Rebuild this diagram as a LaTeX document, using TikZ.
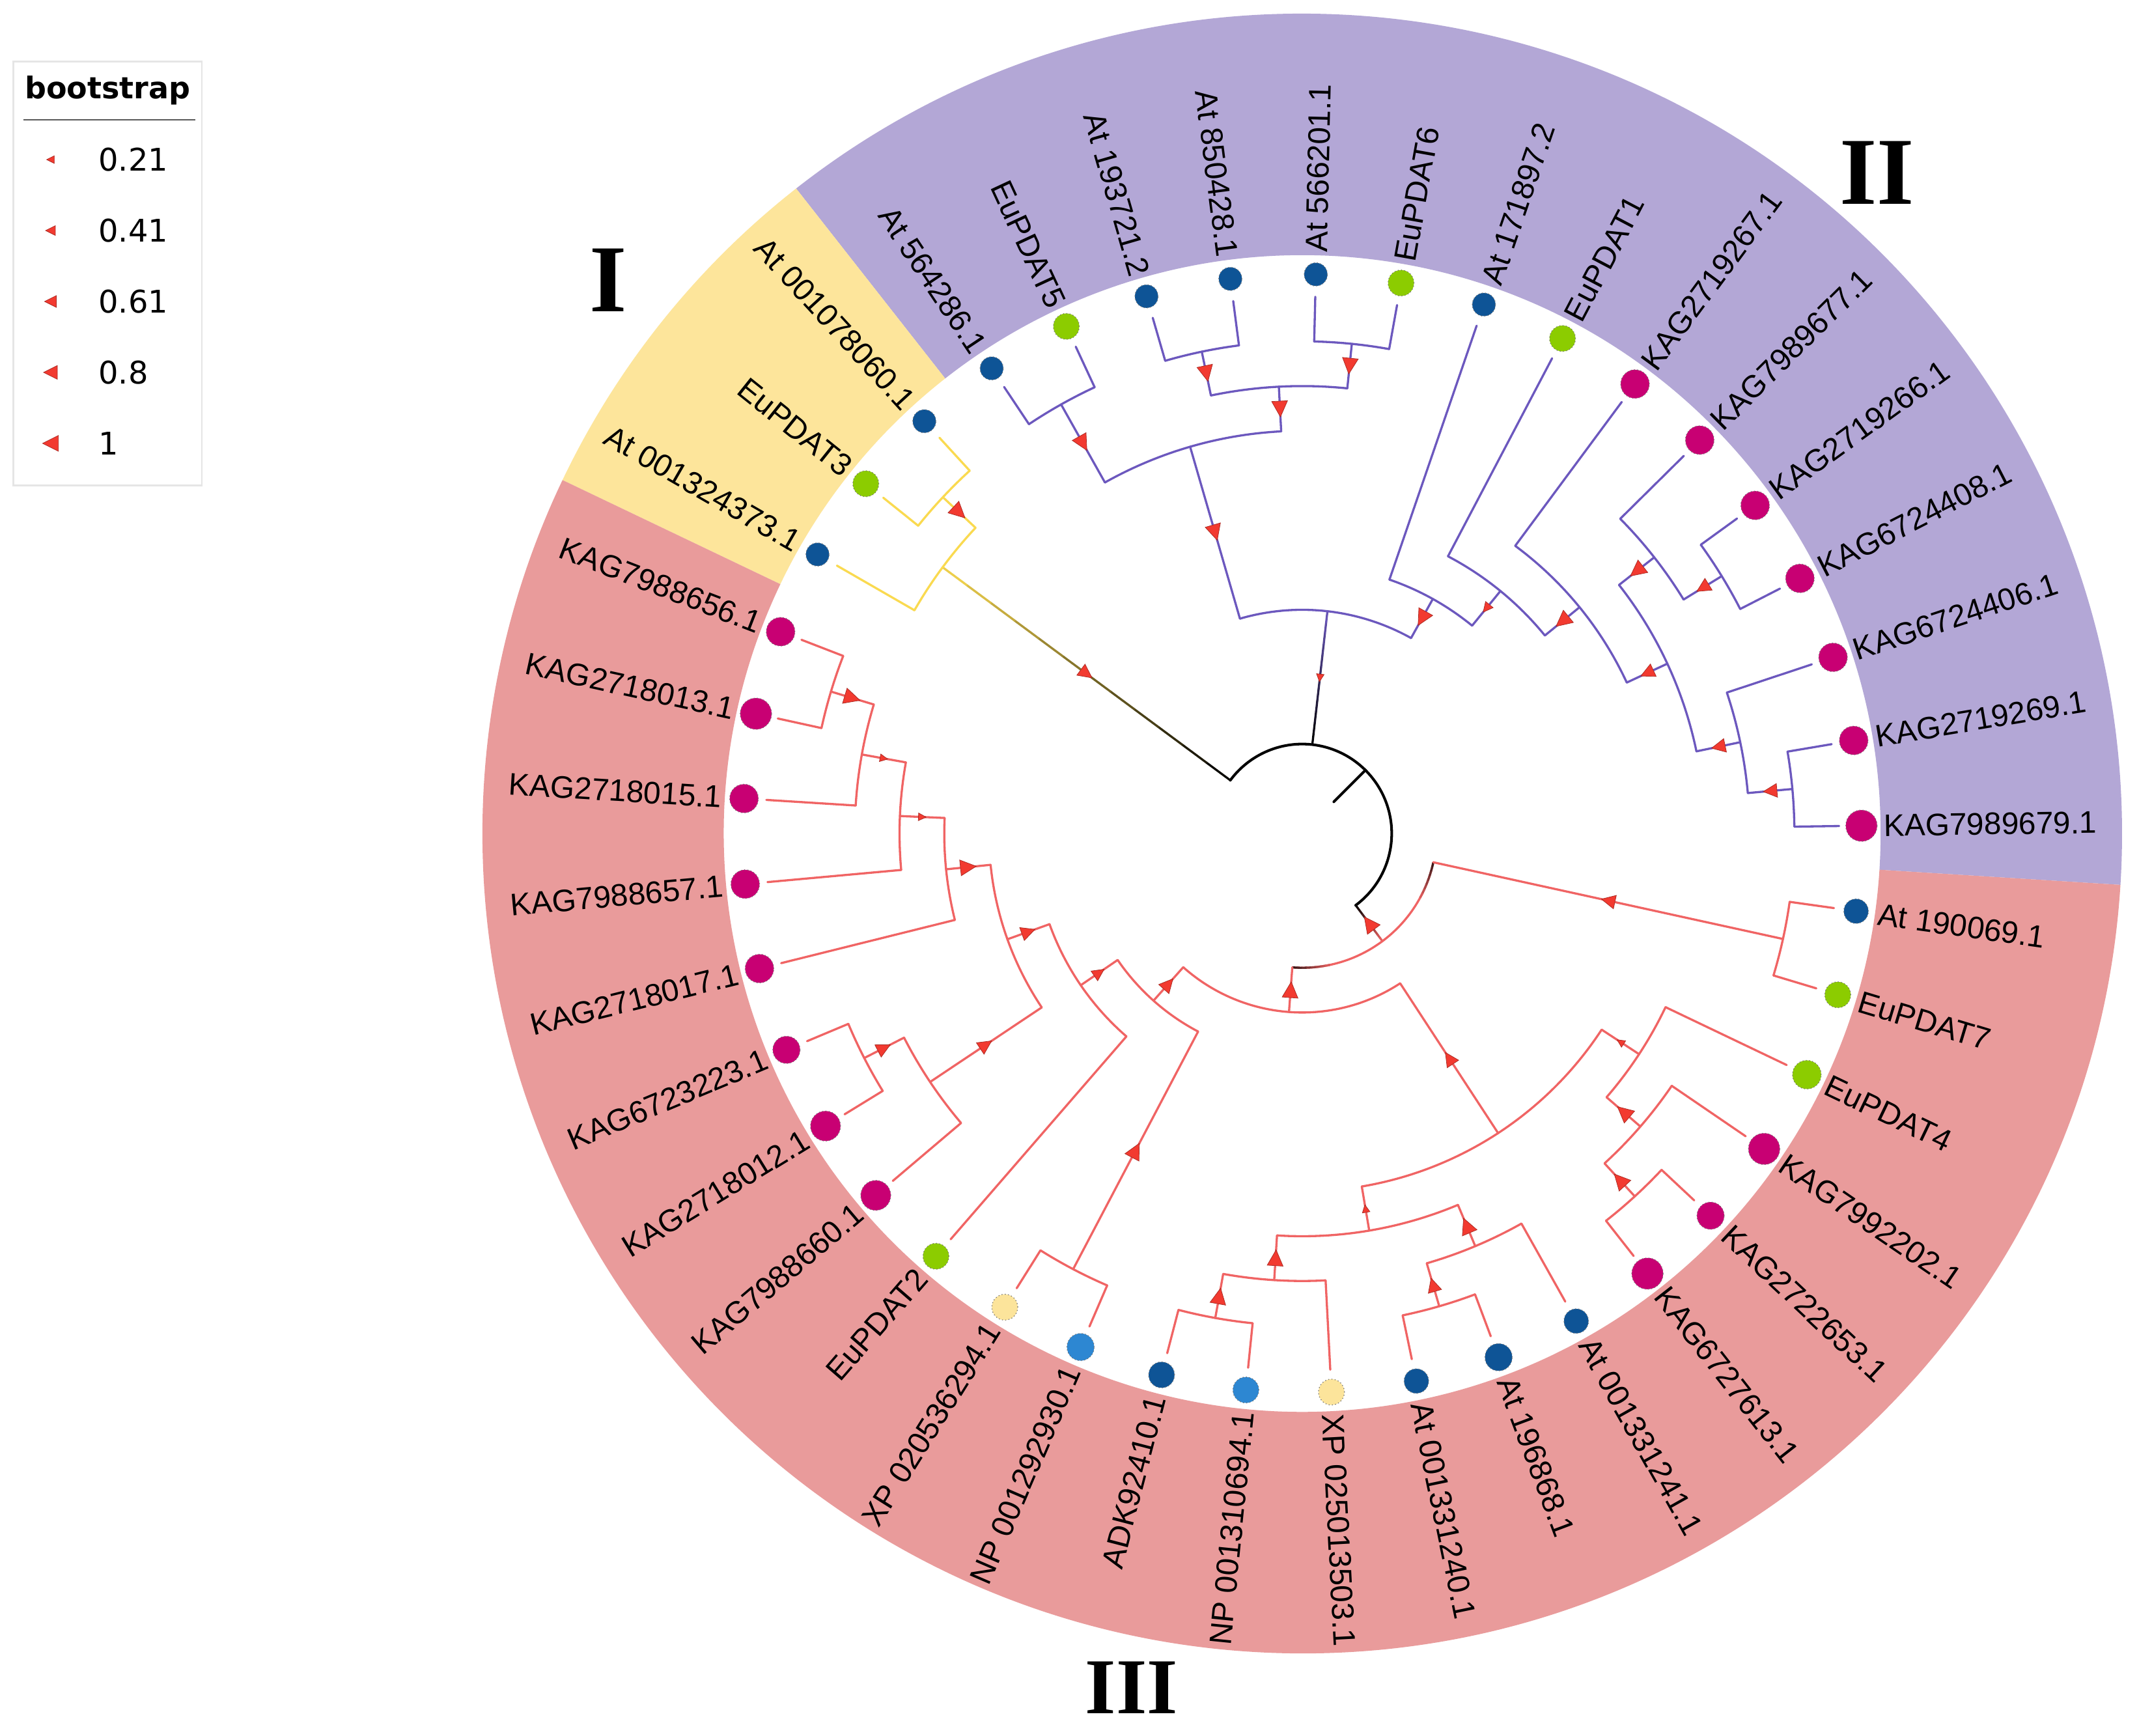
\documentclass[tikz,border=0pt]{standalone}
\usepackage{fontspec}
\setmainfont{Liberation Sans}
\newfontfamily\romfont{Liberation Serif}
\newfontfamily\legfont{DejaVu Sans}
\definecolor{bandP}{RGB}{179,167,214}
\definecolor{bandY}{RGB}{253,229,155}
\definecolor{bandR}{RGB}{233,155,155}
\definecolor{lnP}{RGB}{108,88,190}
\definecolor{lnY}{RGB}{250,218,80}
\definecolor{lnR}{RGB}{240,100,100}
\definecolor{bsR}{RGB}{242,58,48}
\definecolor{dMag}{RGB}{200,0,115}
\definecolor{dBlue}{RGB}{14,84,150}
\definecolor{dGreen}{RGB}{140,204,0}
\definecolor{dLBlue}{RGB}{45,135,210}
\definecolor{dPale}{RGB}{252,228,155}
\makeatletter
\newcommand\setang[2]{\pgfmathsetmacro\@tmpa{#2}\expandafter\xdef\csname ang@#1\endcsname{\@tmpa}}
\newcommand\Ang[1]{\csname ang@#1\endcsname}
\makeatother
\tikzset{
  brP/.style={draw=lnP, line width=0.9pt, line cap=round},
  brY/.style={draw=lnY, line width=0.9pt, line cap=round},
  brR/.style={draw=lnR, line width=0.9pt, line cap=round},
  rootline/.style={draw=black, line width=1.1pt, line cap=round},
  bsfill/.style={fill=bsR, draw=bsR!70!black, line width=0.2pt},
  dot/.style={circle, inner sep=0pt, draw=black!55, densely dotted, line width=0.35pt},
  lbl/.style={inner sep=0pt, font=\fontsize{13}{15}\selectfont},
  roman/.style={inner sep=0pt, font=\romfont\bfseries\fontsize{40}{44}\selectfont},
}
% bootstrap triangle on a radial stem, pointing to the centre
\newcommand\bstri[3]{%
  \pgfmathsetmacro\rmid{(#2)*32.8}%
  \pgfmathsetmacro\sz{4+7.6*#3}%
  \filldraw[bsfill, rotate=\Ang{#1}] ({\rmid-\sz/2},0) -- ({\rmid+\sz/2},{\sz/2}) -- ({\rmid+\sz/2},{-\sz/2}) -- cycle;}
% radial branch: style, child, parent level, child level, bootstrap
\newcommand\tbranch[5]{%
  \pgfmathsetmacro\ra{#3*32.8}\pgfmathsetmacro\rb{#4*32.8}%
  \draw[#1] ({\Ang{#2}}:\ra) -- ({\Ang{#2}}:\rb);%
  \ifdim #5pt>0pt \bstri{#2}{(#3+#4)/2}{#5}\fi}
% arc of an internal node: style, level, from child, to child
\newcommand\narc[4]{%
  \pgfmathsetmacro\ra{#2*32.8}%
  \draw[#1] ({\Ang{#3}}:\ra) arc[start angle=\Ang{#3}, end angle=\Ang{#4}, radius=\ra];}
% colour-graded stem from black to colour
\newcommand\gradstem[4]{%
  \foreach \k in {0,...,11}{%
    \pgfmathsetmacro\ra{(#3+(#4-#3)*\k/12)*32.8}%
    \pgfmathsetmacro\rb{(#3+(#4-#3)*(\k+1)/12)*32.8}%
    \pgfmathtruncatemacro\pc{100*(\k+0.5)/12}%
    \draw[#1!\pc!black, line width=0.9pt, line cap=round] ({\Ang{#2}}:\ra) -- ({\Ang{#2}}:\rb);}}
% leaf: index, colour, dot radius, text
\newcommand\leaf[4]{%
  \node[dot, fill=#2, minimum size={2*#3*0.02cm}] (L#1) at ({\Ang{L#1}}:410) {};%
  \pgfmathsetmacro\lang{\Ang{L#1}}%
  \pgfmathtruncatemacro\flip{and(\lang>90,\lang<270)}%
  \ifnum\flip=1
    \node[lbl, anchor=east, rotate={\lang-180}] (T#1) at (\lang:426) {#4};%
  \else
    \node[lbl, anchor=west, rotate=\lang] (T#1) at (\lang:426) {#4};%
  \fi}
\newcommand\legtri[3]{%
  \pgfmathsetmacro\sz{4+7.6*#3}%
  \filldraw[bsfill] ({#1-\sz/2},#2) -- ({#1+\sz/2},{#2+\sz/2}) -- ({#1+\sz/2},{#2-\sz/2}) -- cycle;}
\begin{document}
\begin{tikzpicture}[x=0.02cm,y=0.02cm]
% ---------- angles ----------
\foreach \i in {0,...,40}{\setang{L\i}{0.8+\i*360/41}}
\setang{m}{(\Ang{L0}+\Ang{L1})/2}
\setang{k}{(\Ang{L2}+\Ang{m})/2}
\setang{l}{(\Ang{L3}+\Ang{L4})/2}
\setang{i}{(\Ang{L5}+\Ang{l})/2}
\setang{j}{(\Ang{i}+\Ang{k})/2}
\setang{g}{(\Ang{L6}+\Ang{j})/2}
\setang{f}{(\Ang{L7}+\Ang{g})/2}
\setang{e}{(\Ang{L8}+\Ang{f})/2}
\setang{b2}{(\Ang{L9}+\Ang{L10})/2}
\setang{b1}{(\Ang{L11}+\Ang{L12})/2}
\setang{b}{(\Ang{b1}+\Ang{b2})/2}
\setang{a}{(\Ang{L13}+\Ang{L14})/2}
\setang{c}{(\Ang{a}+\Ang{b})/2}
\setang{d}{(\Ang{c}+\Ang{e})/2}
\setang{y1}{(\Ang{L15}+\Ang{L16})/2}
\setang{y2}{(\Ang{y1}+\Ang{L17})/2}
\setang{R18}{(\Ang{L18}+\Ang{L19})/2}
\setang{R17}{(\Ang{R18}+\Ang{L20})/2}
\setang{R16}{(\Ang{R17}+\Ang{L21})/2}
\setang{R15}{(\Ang{R16}+\Ang{L22})/2}
\setang{R20}{(\Ang{L23}+\Ang{L24})/2}
\setang{R19}{(\Ang{R20}+\Ang{L25})/2}
\setang{R14}{(\Ang{R15}+\Ang{R19})/2}
\setang{R13}{(\Ang{R14}+\Ang{L26})/2}
\setang{R12}{(\Ang{L27}+\Ang{L28})/2}
\setang{R11}{(\Ang{R13}+\Ang{R12})/2}
\setang{R8}{(\Ang{L29}+\Ang{L30})/2}
\setang{R7}{(\Ang{R8}+\Ang{L31})/2}
\setang{R10}{(\Ang{L32}+\Ang{L33})/2}
\setang{R9}{(\Ang{R10}+\Ang{L34})/2}
\setang{R3}{(\Ang{R7}+\Ang{R9})/2}
\setang{R6}{(\Ang{L35}+\Ang{L36})/2}
\setang{R5}{(\Ang{R6}+\Ang{L37})/2}
\setang{R4}{(\Ang{R5}+\Ang{L38})/2}
\setang{R2}{(\Ang{R3}+\Ang{R4})/2}
\setang{R1}{(\Ang{R11}+\Ang{R2})/2}
\setang{n1}{(\Ang{L39}+\Ang{L40})/2}
\setang{R0}{(\Ang{R1}+\Ang{n1})/2}
\setang{R0m}{\Ang{R0}-360}
\setang{root}{(\Ang{y2}+\Ang{R0m})/2}

% ---------- canvas ----------
\useasboundingbox (-954.6,-661.5) rectangle (613.4,611);
\fill[white] (-954.6,-661.5) rectangle (613.4,611);

% ---------- coloured ring ----------
\fill[bandP] (-3.59:424) arc[start angle=-3.59, end angle=128.12, radius=424] -- (128.12:601) arc[start angle=128.12, end angle=-3.59, radius=601] -- cycle;
\fill[bandY] (128.12:424) arc[start angle=128.12, end angle=154.46, radius=424] -- (154.46:601) arc[start angle=154.46, end angle=128.12, radius=601] -- cycle;
\fill[bandR] (154.46:424) arc[start angle=154.46, end angle=356.41, radius=424] -- (356.41:601) arc[start angle=356.41, end angle=154.46, radius=601] -- cycle;

% ---------- root ----------
\coordinate (rootnode) at ({\Ang{root}}:65.6);
\coordinate (rootbase) at ({\Ang{root}}:32.8);
\draw[rootline] ({\Ang{R0m}}:65.6) arc[start angle=\Ang{R0m}, end angle=\Ang{y2}, radius=65.6];
\draw[rootline] (rootnode) -- (rootbase);

% ---------- clade II (purple) ----------
\gradstem{lnP}{d}{2}{5}
\bstri{d}{3.5}{0.21}
\narc{brP}{5}{c}{e}
\tbranch{brP}{c}{5}{9}{1}
\narc{brP}{9}{a}{b}
\tbranch{brP}{a}{9}{11}{1}
\narc{brP}{11}{L13}{L14}
\tbranch{brP}{L13}{11}{12}{0}
\tbranch{brP}{L14}{11}{12}{0}
\tbranch{brP}{b}{9}{10}{1}
\narc{brP}{10}{b1}{b2}
\tbranch{brP}{b1}{10}{11}{1}
\tbranch{brP}{b2}{10}{11}{1}
\narc{brP}{11}{L11}{L12}
\tbranch{brP}{L11}{11}{12}{0}
\tbranch{brP}{L12}{11}{12}{0}
\narc{brP}{11}{L9}{L10}
\tbranch{brP}{L9}{11}{12}{0}
\tbranch{brP}{L10}{11}{12}{0}
\tbranch{brP}{e}{5}{6}{1}
\narc{brP}{6}{L8}{f}
\tbranch{brP}{L8}{6}{12}{0}
\tbranch{brP}{f}{6}{7}{0.41}
\narc{brP}{7}{L7}{g}
\tbranch{brP}{L7}{7}{12}{0}
\tbranch{brP}{g}{7}{8}{1}
\narc{brP}{8}{L6}{j}
\tbranch{brP}{L6}{8}{12}{0}
\tbranch{brP}{j}{8}{9}{0.8}
\narc{brP}{9}{i}{k}
\tbranch{brP}{i}{9}{10}{1}
\narc{brP}{10}{L5}{l}
\tbranch{brP}{L5}{10}{12}{0}
\tbranch{brP}{l}{10}{11}{0.8}
\narc{brP}{11}{L4}{L3}
\tbranch{brP}{L4}{11}{12}{0}
\tbranch{brP}{L3}{11}{12}{0}
\tbranch{brP}{k}{9}{10}{0.8}
\narc{brP}{10}{L2}{m}
\tbranch{brP}{L2}{10}{12}{0}
\tbranch{brP}{m}{10}{11}{0.8}
\narc{brP}{11}{L1}{L0}
\tbranch{brP}{L1}{11}{12}{0}
\tbranch{brP}{L0}{11}{12}{0}

% ---------- clade I (yellow) ----------
\gradstem{lnY}{y2}{2}{10}
\bstri{y2}{6}{0.8}
\narc{brY}{10}{y1}{L17}
\tbranch{brY}{y1}{10}{11}{1}
\tbranch{brY}{L17}{10}{12}{0}
\narc{brY}{11}{L15}{L16}
\tbranch{brY}{L15}{11}{12}{0}
\tbranch{brY}{L16}{11}{12}{0}

% ---------- clade III (red) ----------
\gradstem{lnR}{R0}{2}{3}
\narc{brR}{3}{R1}{n1}
\foreach \q in {0,...,7}{%
  \pgfmathsetmacro\angA{\Ang{R1}+\q*2}\pgfmathsetmacro\angB{\angA+2.2}%
  \pgfmathtruncatemacro\pc{25+75*\q/8}%
  \draw[lnR!\pc!black, line width=0.9pt] (\angA:98.4) arc[start angle=\angA, end angle=\angB, radius=98.4];
  \pgfmathsetmacro\angA{\Ang{n1}-\q*2}\pgfmathsetmacro\angB{\angA-2.2}%
  \draw[lnR!\pc!black, line width=0.9pt] (\angA:98.4) arc[start angle=\angA, end angle=\angB, radius=98.4];}
\bstri{R0}{2.5}{1}
\tbranch{brR}{n1}{3}{11}{0.8}
\narc{brR}{11}{L39}{L40}
\tbranch{brR}{L39}{11}{12}{0}
\tbranch{brR}{L40}{11}{12}{0}
\tbranch{brR}{R1}{3}{4}{1}
\narc{brR}{4}{R11}{R2}
\tbranch{brR}{R11}{4}{5}{0.8}
\narc{brR}{5}{R13}{R12}
\tbranch{brR}{R13}{5}{6}{0.61}
\narc{brR}{6}{R14}{L26}
\tbranch{brR}{L26}{6}{12}{0}
\tbranch{brR}{R14}{6}{7}{0.8}
\narc{brR}{7}{R15}{R19}
\tbranch{brR}{R15}{7}{8}{1}
\narc{brR}{8}{R16}{L22}
\tbranch{brR}{L22}{8}{12}{0}
\tbranch{brR}{R16}{8}{9}{0.21}
\narc{brR}{9}{R17}{L21}
\tbranch{brR}{L21}{9}{12}{0}
\tbranch{brR}{R17}{9}{10}{0.21}
\narc{brR}{10}{R18}{L20}
\tbranch{brR}{L20}{10}{12}{0}
\tbranch{brR}{R18}{10}{11}{1}
\narc{brR}{11}{L18}{L19}
\tbranch{brR}{L18}{11}{12}{0}
\tbranch{brR}{L19}{11}{12}{0}
\tbranch{brR}{R19}{7}{10}{0.8}
\narc{brR}{10}{R20}{L25}
\tbranch{brR}{L25}{10}{12}{0}
\tbranch{brR}{R20}{10}{11}{0.8}
\narc{brR}{11}{L23}{L24}
\tbranch{brR}{L23}{11}{12}{0}
\tbranch{brR}{L24}{11}{12}{0}
\tbranch{brR}{R12}{5}{11}{1}
\narc{brR}{11}{L27}{L28}
\tbranch{brR}{L27}{11}{12}{0}
\tbranch{brR}{L28}{11}{12}{0}
\tbranch{brR}{R2}{4}{8}{0.8}
\narc{brR}{8}{R3}{R4}
\tbranch{brR}{R3}{8}{9}{0.21}
\narc{brR}{9}{R7}{R9}
\tbranch{brR}{R7}{9}{10}{1}
\narc{brR}{10}{R8}{L31}
\tbranch{brR}{L31}{10}{12}{0}
\tbranch{brR}{R8}{10}{11}{1}
\narc{brR}{11}{L29}{L30}
\tbranch{brR}{L29}{11}{12}{0}
\tbranch{brR}{L30}{11}{12}{0}
\tbranch{brR}{R9}{9}{10}{1}
\narc{brR}{10}{R10}{L34}
\tbranch{brR}{L34}{10}{12}{0}
\tbranch{brR}{R10}{10}{11}{0.8}
\narc{brR}{11}{L32}{L33}
\tbranch{brR}{L32}{11}{12}{0}
\tbranch{brR}{L33}{11}{12}{0}
\tbranch{brR}{R4}{8}{9}{0.21}
\narc{brR}{9}{R5}{L38}
\tbranch{brR}{L38}{9}{12}{0}
\tbranch{brR}{R5}{9}{10}{1}
\narc{brR}{10}{R6}{L37}
\tbranch{brR}{L37}{10}{12}{0}
\tbranch{brR}{R6}{10}{11}{1}
\narc{brR}{11}{L35}{L36}
\tbranch{brR}{L35}{11}{12}{0}
\tbranch{brR}{L36}{11}{12}{0}

% ---------- leaves ----------
\leaf{0}{dMag}{11.5}{KAG7989679.1}
\leaf{1}{dMag}{10.5}{KAG2719269.1}
\leaf{2}{dMag}{10.5}{KAG6724406.1}
\leaf{3}{dMag}{10.5}{KAG6724408.1}
\leaf{4}{dMag}{10.5}{KAG2719266.1}
\leaf{5}{dMag}{10.5}{KAG7989677.1}
\leaf{6}{dMag}{10.5}{KAG2719267.1}
\leaf{7}{dGreen}{9.5}{EuPDAT1}
\leaf{8}{dBlue}{8.5}{At 171897.2}
\leaf{9}{dGreen}{9.5}{EuPDAT6}
\leaf{10}{dBlue}{8.5}{At 566201.1}
\leaf{11}{dBlue}{8.5}{At 850428.1}
\leaf{12}{dBlue}{8.5}{At 193721.2}
\leaf{13}{dGreen}{9.5}{EuPDAT5}
\leaf{14}{dBlue}{8.5}{At 564286.1}
\leaf{15}{dBlue}{8.5}{At 001078060.1}
\leaf{16}{dGreen}{9.5}{EuPDAT3}
\leaf{17}{dBlue}{8.5}{At 001324373.1}
\leaf{18}{dMag}{10.5}{KAG7988656.1}
\leaf{19}{dMag}{11.5}{KAG2718013.1}
\leaf{20}{dMag}{10.5}{KAG2718015.1}
\leaf{21}{dMag}{10.5}{KAG7988657.1}
\leaf{22}{dMag}{10.5}{KAG2718017.1}
\leaf{23}{dMag}{10}{KAG6723223.1}
\leaf{24}{dMag}{11}{KAG2718012.1}
\leaf{25}{dMag}{11}{KAG7988660.1}
\leaf{26}{dGreen}{9.5}{EuPDAT2}
\leaf{27}{dPale}{9.5}{XP 020536294.1}
\leaf{28}{dLBlue}{10}{NP 001292930.1}
\leaf{29}{dBlue}{9.5}{ADK92410.1}
\leaf{30}{dLBlue}{9.5}{NP 001310694.1}
\leaf{31}{dPale}{9.5}{XP 025013503.1}
\leaf{32}{dBlue}{9}{At 001331240.1}
\leaf{33}{dBlue}{10}{At 196868.1}
\leaf{34}{dBlue}{9}{At 001331241.1}
\leaf{35}{dMag}{11.5}{KAG6727613.1}
\leaf{36}{dMag}{10}{KAG2722653.1}
\leaf{37}{dMag}{11.5}{KAG7992202.1}
\leaf{38}{dGreen}{10.5}{EuPDAT4}
\leaf{39}{dGreen}{9.5}{EuPDAT7}
\leaf{40}{dBlue}{9}{At 190069.1}

% ---------- clade numerals ----------
\node[roman] (cI) at (-508.6,405.5) {I};
\node[roman] (cII) at (421.4,484.5) {II};
\node[roman, font=\romfont\bfseries\fontsize{33}{36}\selectfont] (cIII) at (-125.1,-626) {III};

% ---------- legend ----------
\node[draw=black!10, line width=0.8pt, inner sep=0pt, minimum width=2.76cm, minimum height=6.22cm] (legend) at (-875.6,410.5) {};
\node[inner sep=0pt, anchor=base, font=\legfont\bfseries\fontsize{12.5}{14}\selectfont] (legtitle) at (-875.6,538.5) {bootstrap};
\draw[black!65, line width=0.6pt] (-937.6,523) -- (-811.6,523);
\legtri{-917.6}{494}{0.21}
\legtri{-917.6}{442}{0.41}
\legtri{-917.6}{390}{0.61}
\legtri{-917.6}{338}{0.8}
\legtri{-917.6}{286}{1}
\begin{scope}[every node/.style={inner sep=0pt, anchor=west, font=\legfont\fontsize{13}{15}\selectfont}]
\node (v1) at (-882.6,494) {0.21};
\node (v2) at (-882.6,442) {0.41};
\node (v3) at (-882.6,390) {0.61};
\node (v4) at (-882.6,338) {0.8};
\node (v5) at (-882.6,286) {1};
\end{scope}
\end{tikzpicture}
\end{document}
